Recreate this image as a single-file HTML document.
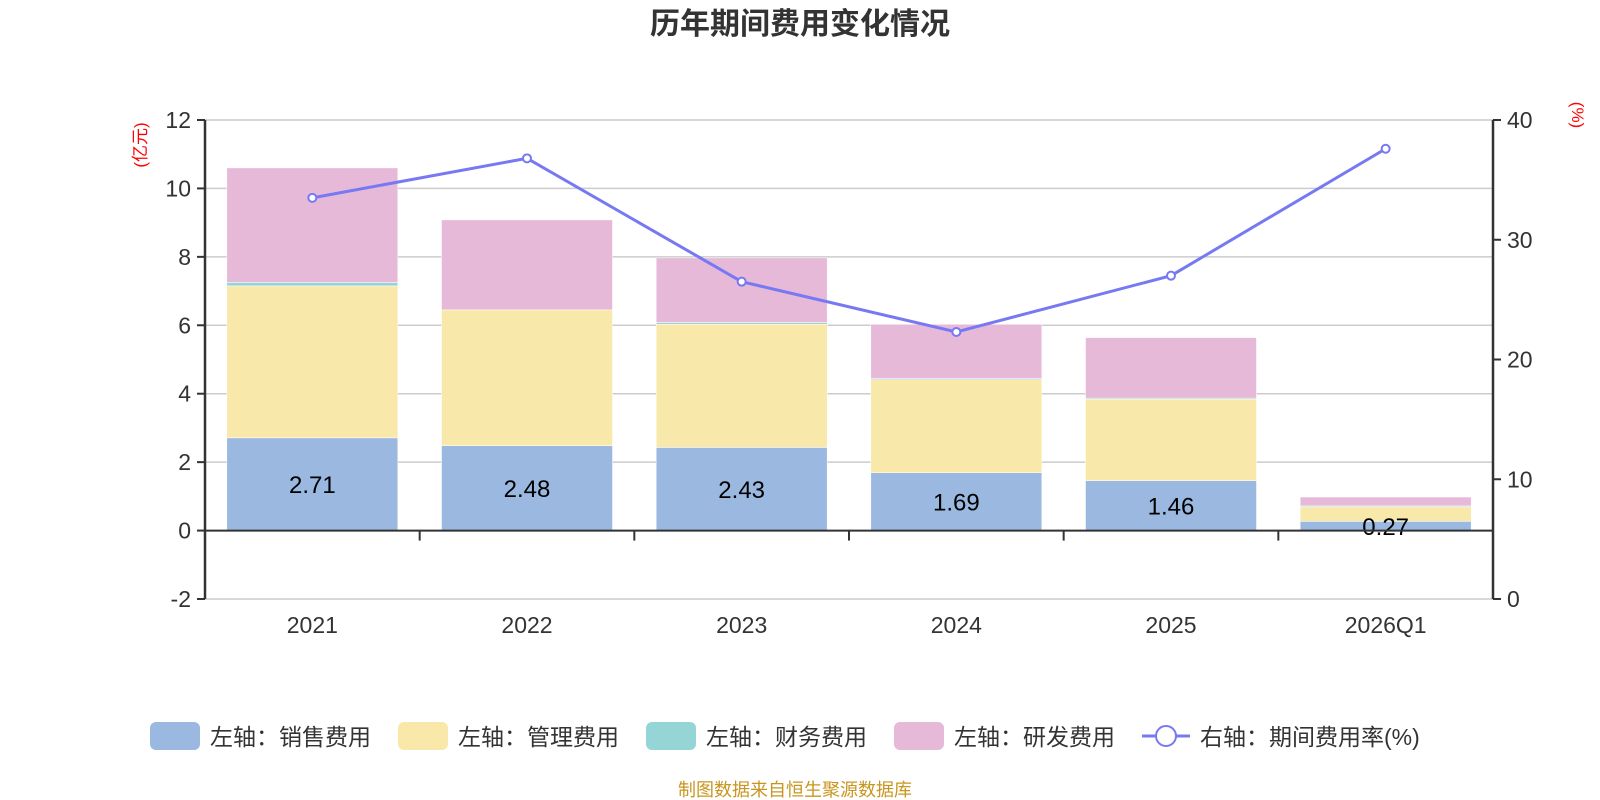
<!DOCTYPE html>
<html><head><meta charset="utf-8"><style>
html,body{margin:0;padding:0;background:#fff;}
svg{display:block;font-family:"Liberation Sans","Noto Sans CJK SC",sans-serif;}
</style></head><body>
<svg id="chart" width="1600" height="800" viewBox="0 0 1600 800">
<text x="800" y="34" text-anchor="middle" font-size="30" font-weight="bold" fill="#333">历年期间费用变化情况</text>
<text transform="translate(146,145) rotate(-90)" text-anchor="middle" font-size="17" fill="#f00">(亿元)</text>
<text transform="translate(1572,115) rotate(90)" text-anchor="middle" font-size="17" fill="#f00">(%)</text>
<g id="grid"></g><g id="bars"></g><g id="axes"></g><g id="line"></g>
<g>
<rect x="150" y="722" width="50" height="28" rx="6" fill="#9bb8e0"/>
<text x="210" y="745" font-size="23" fill="#333">左轴：销售费用</text>
<rect x="398" y="722" width="50" height="28" rx="6" fill="#f8e8a9"/>
<text x="458" y="745" font-size="23" fill="#333">左轴：管理费用</text>
<rect x="646" y="722" width="50" height="28" rx="6" fill="#96d5d6"/>
<text x="706" y="745" font-size="23" fill="#333">左轴：财务费用</text>
<rect x="894" y="722" width="50" height="28" rx="6" fill="#e7b9d8"/>
<text x="954" y="745" font-size="23" fill="#333">左轴：研发费用</text>
<line x1="1142" y1="736" x2="1190" y2="736" stroke="#7779f2" stroke-width="3"/>
<circle cx="1166" cy="736" r="10" fill="#fff" stroke="#7779f2" stroke-width="2"/>
<text x="1200" y="745" font-size="23" fill="#333">右轴：期间费用率(%)</text>
</g>
<text x="795" y="796" text-anchor="middle" font-size="18" fill="#c8961e">制图数据来自恒生聚源数据库</text>
</svg>
<script>
const categories = ["2021","2022","2023","2024","2025","2026Q1"];
const sales = [2.71,2.48,2.43,1.69,1.46,0.27];
const admin = [4.44,3.97,3.6,2.73,2.39,0.44];
const finance = [0.1,-0.03,0.05,0.02,0.02,0.01];
const rnd = [3.35,2.63,1.89,1.59,1.77,0.26];
const rate = [33.5,36.8,26.5,22.3,27.0,37.6];
const leftTicks = [-2,0,2,4,6,8,10,12];
const rightTicks = [0,10,20,30,40];

const NS="http://www.w3.org/2000/svg";
const L=205,R=1493,T=120,B=599;
const yL=v=>B-(v+2)/14*(B-T);
const yR=v=>B-v/40*(B-T);
const band=(R-L)/categories.length;
const xC=i=>L+band*(i+0.5);
const bw=171;
function mk(tag,attrs,parent){const e=document.createElementNS(NS,tag);for(const k in attrs)e.setAttribute(k,attrs[k]);document.getElementById(parent).appendChild(e);return e;}

leftTicks.forEach(v=>{
  const g=mk('line',{x1:L,x2:R,y1:yL(v),y2:yL(v),stroke:'#ccc','stroke-width':1.5},'grid');
  
  
  const t=mk('line',{x1:L-8,x2:L,y1:yL(v),y2:yL(v),stroke:'#333','stroke-width':2},'axes');
  
  
  const tx=mk('text',{x:L-14,y:yL(v)+8,'text-anchor':'end','font-size':23,fill:'#333'},'axes');
  tx.textContent=v;
  
  
});
rightTicks.forEach(v=>{
  const t=mk('line',{x1:R,x2:R+8,y1:yR(v),y2:yR(v),stroke:'#333','stroke-width':2},'axes');
  
  
  const tx=mk('text',{x:R+14,y:yR(v)+8,'font-size':23,fill:'#333'},'axes');
  tx.textContent=v;
  
  
});
const series=[[sales,'#9bb8e0','bar-sales'],[admin,'#f8e8a9','bar-admin'],[finance,'#96d5d6','bar-finance'],[rnd,'#e7b9d8','bar-rnd']];
categories.forEach((c,i)=>{
  let pos=0,neg=0;
  series.forEach(([arr,col,name])=>{
    const v=arr[i];let y0,y1;
    if(v>=0){y0=pos;y1=pos+v;pos=y1;}else{y0=neg;y1=neg+v;neg=y1;}
    const top=Math.min(yL(y0),yL(y1)),h=Math.abs(yL(y1)-yL(y0));
    const r=mk('rect',{x:xC(i)-bw/2,y:top,width:bw,height:Math.max(h,1),fill:col,stroke:'#fff','stroke-width':0.5},'bars');
    
    
  });
  const lb=mk('text',{x:xC(i),y:(yL(0)+yL(sales[i]))/2+9,'text-anchor':'middle','font-size':24,fill:'#000'},'bars');
  lb.textContent=sales[i].toFixed(2);
  
  
  const xl=mk('text',{x:xC(i),y:633,'text-anchor':'middle','font-size':23,fill:'#333'},'axes');
  xl.textContent=c;
  
  
  if(i>0){const tk=mk('line',{x1:L+band*i,x2:L+band*i,y1:yL(0),y2:yL(0)+10,stroke:'#333','stroke-width':2},'axes');
  
  }
});
const xa=mk('line',{x1:L,x2:R,y1:yL(0),y2:yL(0),stroke:'#333','stroke-width':2},'axes');


const la=mk('line',{x1:L,x2:L,y1:T,y2:B,stroke:'#333','stroke-width':2.5},'axes');


const ra=mk('line',{x1:R,x2:R,y1:T,y2:B,stroke:'#333','stroke-width':2.5},'axes');


const pl=mk('polyline',{points:rate.map((v,i)=>xC(i)+','+yR(v)).join(' '),fill:'none',stroke:'#7779f2','stroke-width':3},'line');


rate.forEach((v,i)=>{
  const p=mk('circle',{cx:xC(i),cy:yR(v),r:4,fill:'#fff',stroke:'#7779f2','stroke-width':2},'line');
  
  
});
</script>
</body></html>
